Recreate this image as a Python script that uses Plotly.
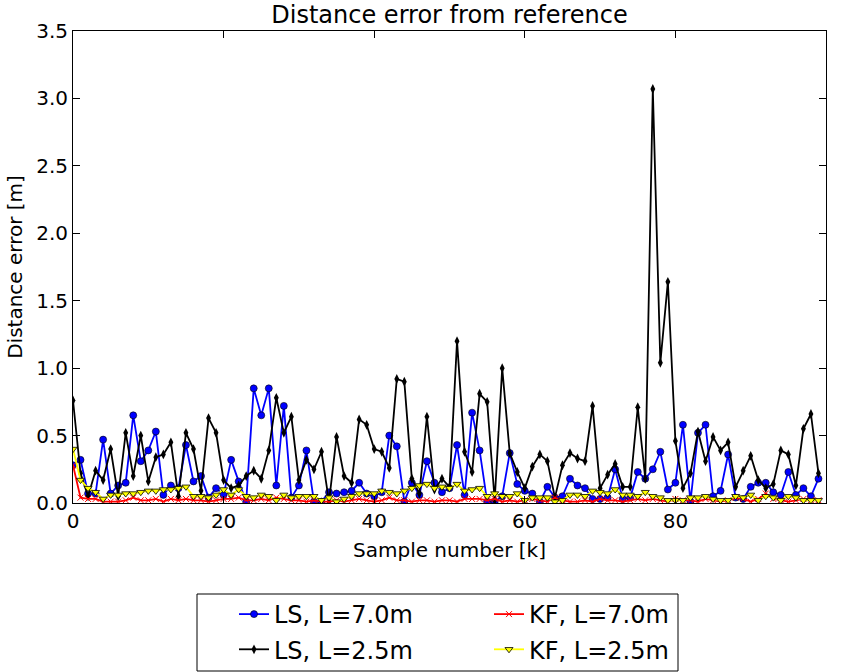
import plotly.graph_objects as go

k = list(range(100))

ls_70 = [0.28, 0.32, 0.07, 0.07, 0.47, 0.07, 0.13, 0.15, 0.65, 0.31,
         0.39, 0.53, 0.06, 0.13, 0.11, 0.43, 0.16, 0.20, 0.04, 0.11,
         0.06, 0.32, 0.16, 0.01, 0.85, 0.65, 0.85, 0.13, 0.72, 0.04,
         0.13, 0.39, 0.01, 0.01, 0.08, 0.07, 0.08, 0.09, 0.15, 0.07,
         0.05, 0.08, 0.50, 0.42, 0.01, 0.15, 0.06, 0.31, 0.15, 0.08,
         0.11, 0.43, 0.06, 0.67, 0.39, 0.01, 0.01, 0.05, 0.37, 0.14,
         0.09, 0.07, 0.01, 0.12, 0.04, 0.05, 0.18, 0.13, 0.11, 0.03,
         0.03, 0.04, 0.25, 0.03, 0.04, 0.23, 0.18, 0.25, 0.38, 0.10,
         0.15, 0.58, 0.01, 0.52, 0.58, 0.05, 0.09, 0.36, 0.04, 0.03,
         0.12, 0.15, 0.15, 0.08, 0.06, 0.23, 0.06, 0.11, 0.05, 0.18]

ls_25 = [0.76, 0.22, 0.05, 0.24, 0.17, 0.40, 0.05, 0.52, 0.20, 0.50,
         0.16, 0.34, 0.36, 0.45, 0.05, 0.52, 0.40, 0.09, 0.63, 0.52,
         0.17, 0.11, 0.13, 0.20, 0.24, 0.18, 0.39, 0.78, 0.52, 0.64,
         0.17, 0.32, 0.25, 0.38, 0.01, 0.49, 0.20, 0.15, 0.62, 0.58,
         0.40, 0.38, 0.26, 0.92, 0.90, 0.18, 0.07, 0.64, 0.10, 0.18,
         0.12, 1.20, 0.38, 0.23, 0.81, 0.75, 0.02, 1.00, 0.37, 0.23,
         0.11, 0.27, 0.36, 0.31, 0.04, 0.28, 0.37, 0.33, 0.31, 0.72,
         0.11, 0.21, 0.29, 0.12, 0.12, 0.71, 0.18, 3.07, 1.04, 1.64,
         0.46, 0.11, 0.22, 0.53, 0.31, 0.49, 0.39, 0.45, 0.12, 0.24,
         0.35, 0.17, 0.11, 0.14, 0.39, 0.36, 0.13, 0.55, 0.66, 0.22]

kf_70 = [0.28, 0.04, 0.03, 0.03, 0.01, 0.01, 0.01, 0.02, 0.04, 0.02,
         0.02, 0.03, 0.01, 0.03, 0.02, 0.03, 0.02, 0.02, 0.01, 0.02,
         0.03, 0.03, 0.04, 0.02, 0.02, 0.03, 0.02, 0.04, 0.03, 0.02,
         0.02, 0.01, 0.02, 0.01, 0.01, 0.02, 0.01, 0.02, 0.03, 0.02,
         0.01, 0.02, 0.04, 0.02, 0.02, 0.01, 0.02, 0.02, 0.01, 0.02,
         0.02, 0.01, 0.03, 0.03, 0.03, 0.02, 0.03, 0.01, 0.02, 0.01,
         0.02, 0.03, 0.02, 0.01, 0.04, 0.02, 0.01, 0.01, 0.02, 0.01,
         0.03, 0.02, 0.02, 0.01, 0.02, 0.03, 0.02, 0.03, 0.02, 0.01,
         0.03, 0.02, 0.02, 0.01, 0.03, 0.02, 0.01, 0.02, 0.04, 0.03,
         0.01, 0.03, 0.07, 0.03, 0.02, 0.01, 0.02, 0.03, 0.02, 0.02]

kf_25 = [0.40, 0.17, 0.11, 0.08, 0.03, 0.06, 0.06, 0.07, 0.07, 0.08,
         0.09, 0.09, 0.10, 0.10, 0.11, 0.12, 0.05, 0.05, 0.04, 0.06,
         0.10, 0.06, 0.10, 0.05, 0.04, 0.06, 0.05, 0.02, 0.06, 0.04,
         0.05, 0.05, 0.05, 0.02, 0.04, 0.01, 0.03, 0.05, 0.07, 0.07,
         0.07, 0.09, 0.08, 0.07, 0.09, 0.11, 0.13, 0.14, 0.11, 0.12,
         0.11, 0.14, 0.09, 0.10, 0.11, 0.05, 0.07, 0.05, 0.05, 0.07,
         0.02, 0.04, 0.04, 0.04, 0.01, 0.02, 0.06, 0.06, 0.05, 0.09,
         0.08, 0.07, 0.10, 0.06, 0.06, 0.05, 0.08, 0.05, 0.04, 0.02,
         0.02, 0.02, 0.04, 0.04, 0.05, 0.03, 0.02, 0.02, 0.05, 0.04,
         0.06, 0.02, 0.05, 0.04, 0.02, 0.05, 0.04, 0.02, 0.02, 0.02]

x_ticks = [0, 20, 40, 60, 80, 100]
y_ticks = [0.0, 0.5, 1.0, 1.5, 2.0, 2.5, 3.0, 3.5]

FONT = "DejaVu Sans"

fig = go.Figure()
fig.add_trace(go.Scatter(
    x=k, y=ls_70, mode="lines+markers", name="LS, L=7.0m",
    line=dict(color="blue", width=1.8),
    marker=dict(symbol="circle", size=7, color="blue", line=dict(color="black", width=0.6)),
    legend="legend", legendgroup="a", legendrank=1))
fig.add_trace(go.Scatter(
    x=k, y=ls_25, mode="lines+markers", name="LS, L=2.5m",
    line=dict(color="black", width=1.8),
    marker=dict(symbol="diamond-tall", size=7, color="black"),
    legend="legend", legendgroup="b", legendrank=2))
fig.add_trace(go.Scatter(
    x=k, y=kf_70, mode="lines+markers", name="KF, L=7.0m",
    line=dict(color="red", width=1.8),
    marker=dict(symbol="x-thin", size=6, color="red", line=dict(color="red", width=1)),
    legend="legend2", legendgroup="c", legendrank=1))
fig.add_trace(go.Scatter(
    x=k, y=kf_25, mode="lines+markers", name="KF, L=2.5m",
    line=dict(color="yellow", width=1.8),
    marker=dict(symbol="triangle-down", size=7, color="yellow", line=dict(color="black", width=0.8)),
    legend="legend2", legendgroup="d", legendrank=2))

W, H = 845, 672
L, R, T, B = 73, 19, 31, 169
pw, ph = W - L - R, H - T - B

def px_x(p):
    return (p - L) / pw

def px_y(p):
    return (H - B - p) / ph

legend_common = dict(font=dict(family=FONT, size=24, color="black"),
                     bgcolor="rgba(0,0,0,0)", borderwidth=0,
                     tracegroupgap=1, xanchor="left", yanchor="top",
                     orientation="v")

fig.update_layout(
    width=W, height=H,
    margin=dict(l=L, r=R, t=T, b=B, autoexpand=False),
    paper_bgcolor="white", plot_bgcolor="white",
    font=dict(family=FONT, size=20, color="black"),
    title=dict(text="Distance error from reference", x=0.5, xref="paper",
               xanchor="center", y=1 - 15 / H, yanchor="middle",
               font=dict(family=FONT, size=24, color="black")),
    showlegend=True,
    legend=dict(x=px_x(234), y=px_y(592), **legend_common),
    legend2=dict(x=px_x(489), y=px_y(592), **legend_common),
    xaxis=dict(range=[0, 100], tickvals=x_ticks, ticktext=[str(v) for v in x_ticks],
               ticks="inside", ticklen=7, tickcolor="black", tickwidth=1,
               showline=True, linecolor="black", linewidth=1, mirror="allticks",
               showgrid=False, zeroline=False,
               title=dict(text="Sample number [k]", standoff=10,
                          font=dict(family=FONT, size=20))),
    yaxis=dict(range=[0, 3.5], tickvals=y_ticks, ticktext=[f"{v:.1f}" for v in y_ticks],
               ticks="inside", ticklen=7, tickcolor="black", tickwidth=1,
               showline=True, linecolor="black", linewidth=1, mirror="allticks",
               showgrid=False, zeroline=False,
               title=dict(text="Distance error [m]", standoff=8,
                          font=dict(family=FONT, size=20))),
)

fig.add_shape(type="rect", xref="paper", yref="paper",
              x0=px_x(197), x1=px_x(678), y0=px_y(594), y1=px_y(671),
              line=dict(color="black", width=1), fillcolor="rgba(0,0,0,0)")

fig.write_html("out.html")
